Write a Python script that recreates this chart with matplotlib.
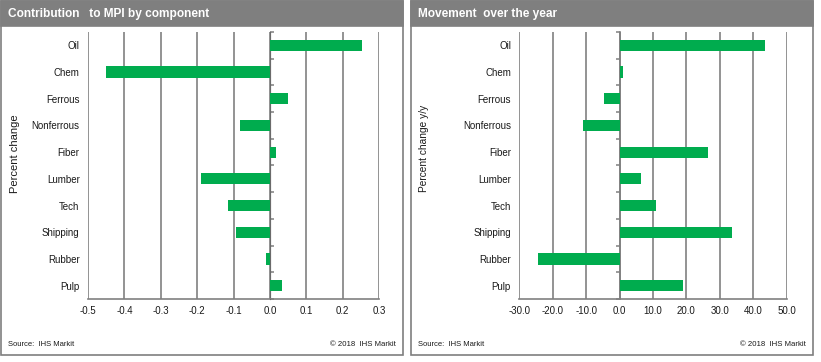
import matplotlib
matplotlib.use("Agg")
import matplotlib.pyplot as plt
from matplotlib.patches import Rectangle

plt.rcParams['font.family'] = ['Liberation Sans', 'DejaVu Sans']

categories = ["Oil", "Chem", "Ferrous", "Nonferrous", "Fiber", "Lumber",
              "Tech", "Shipping", "Rubber", "Pulp"]
contribution = [0.254, -0.45, 0.051, -0.083, 0.016, -0.19, -0.115, -0.093, -0.012, 0.032]
movement = [43.5, 1.1, -4.6, -10.9, 26.5, 6.4, 11.0, 33.7, -24.4, 19.1]

left_ticks = [-0.5, -0.4, -0.3, -0.2, -0.1, 0.0, 0.1, 0.2, 0.3]
left_ticklabels = ["-0.5", "-0.4", "-0.3", "-0.2", "-0.1", "0.0", "0.1", "0.2", "0.3"]
right_ticks = [-30, -20, -10, 0, 10, 20, 30, 40, 50]
right_ticklabels = ["-30.0", "-20.0", "-10.0", "0.0", "10.0", "20.0", "30.0", "40.0", "50.0"]

GREEN = "#00AC4E"
GRAY = "#7F7F7F"
GRID = "#808080"
TXT = "#1a1a1a"

W, H = 821, 362
fig = plt.figure(figsize=(W / 100, H / 100), dpi=100)


def fx(px):
    return px / W


def fy(py):
    return 1 - py / H


def panel(x0, x1, title, source_x, copy_x):
    fig.patches.append(Rectangle((fx(x0), fy(355)), fx(x1 - x0), (355 - 1) / H,
                                 transform=fig.transFigure, fill=False,
                                 edgecolor=GRAY, linewidth=1.2, zorder=0))
    fig.patches.append(Rectangle((fx(x0), fy(26)), fx(x1 - x0), 25 / H,
                                 transform=fig.transFigure, facecolor=GRAY,
                                 edgecolor=GRAY, linewidth=1.2, zorder=1))
    fig.text(fx(x0 + 7), fy(13.5), title, color="white", fontsize=8.6,
             fontweight="bold", va="center", ha="left")
    fig.text(fx(source_x), fy(344), "Source:  IHS Markit", fontsize=5.5,
             color=TXT, va="center", ha="left")
    fig.text(fx(copy_x), fy(344), "\u00a9 2018  IHS Markit", fontsize=5.6,
             color=TXT, va="center", ha="right")


def chart(ax_left, ax_right, values, ticks, ticklabels, ylabel, ylabel_x, ylabel_y, ylsize):
    ax = fig.add_axes([fx(ax_left), fy(299), fx(ax_right - ax_left), 267 / H])
    pos = list(range(len(categories)))
    ax.barh(pos, values, height=0.42, color=GREEN, zorder=3)
    ax.set_ylim(len(categories) - 0.5, -0.5)
    ax.set_xlim(ticks[0], ticks[-1])
    ax.set_xticks(ticks)
    ax.set_xticklabels(ticklabels)
    ax.set_yticks(pos)
    ax.set_yticklabels(categories)
    ax.tick_params(axis="y", length=0, pad=6, labelsize=7, labelcolor=TXT)
    ax.tick_params(axis="x", length=0, pad=5, labelsize=7, labelcolor=TXT)
    ax.grid(axis="x", color=GRID, linewidth=1.2, zorder=1)
    for s in ["top", "left", "right"]:
        ax.spines[s].set_visible(False)
    ax.spines["bottom"].set_color(GRID)
    ax.spines["bottom"].set_linewidth(1.2)
    ax.set_facecolor("none")
    frac = (0 - ticks[0]) / (ticks[-1] - ticks[0])
    sec = ax.secondary_yaxis(frac)
    sec.set_yticks([p - 0.5 for p in pos] + [len(categories) - 0.5])
    sec.set_yticklabels([])
    sec.tick_params(axis="y", length=3, width=1.1, color=GRID, direction="out")
    sec.spines["left"].set_color(GRID)
    sec.spines["left"].set_linewidth(1.2)
    fig.text(fx(ylabel_x), fy(ylabel_y), ylabel, rotation=90, fontsize=ylsize,
             color=TXT, va="center", ha="center")
    return ax


panel(1, 403, "Contribution   to MPI by component", 8, 396)
panel(411, 813, "Movement  over the year", 418, 806)

chart(88, 379, contribution, left_ticks, left_ticklabels, "Percent change", 15, 154, 8)
chart(519.3, 786.7, movement, right_ticks, right_ticklabels, "Percent change y/y", 424, 148, 7.3)

fig.savefig("out.png", dpi=100)
